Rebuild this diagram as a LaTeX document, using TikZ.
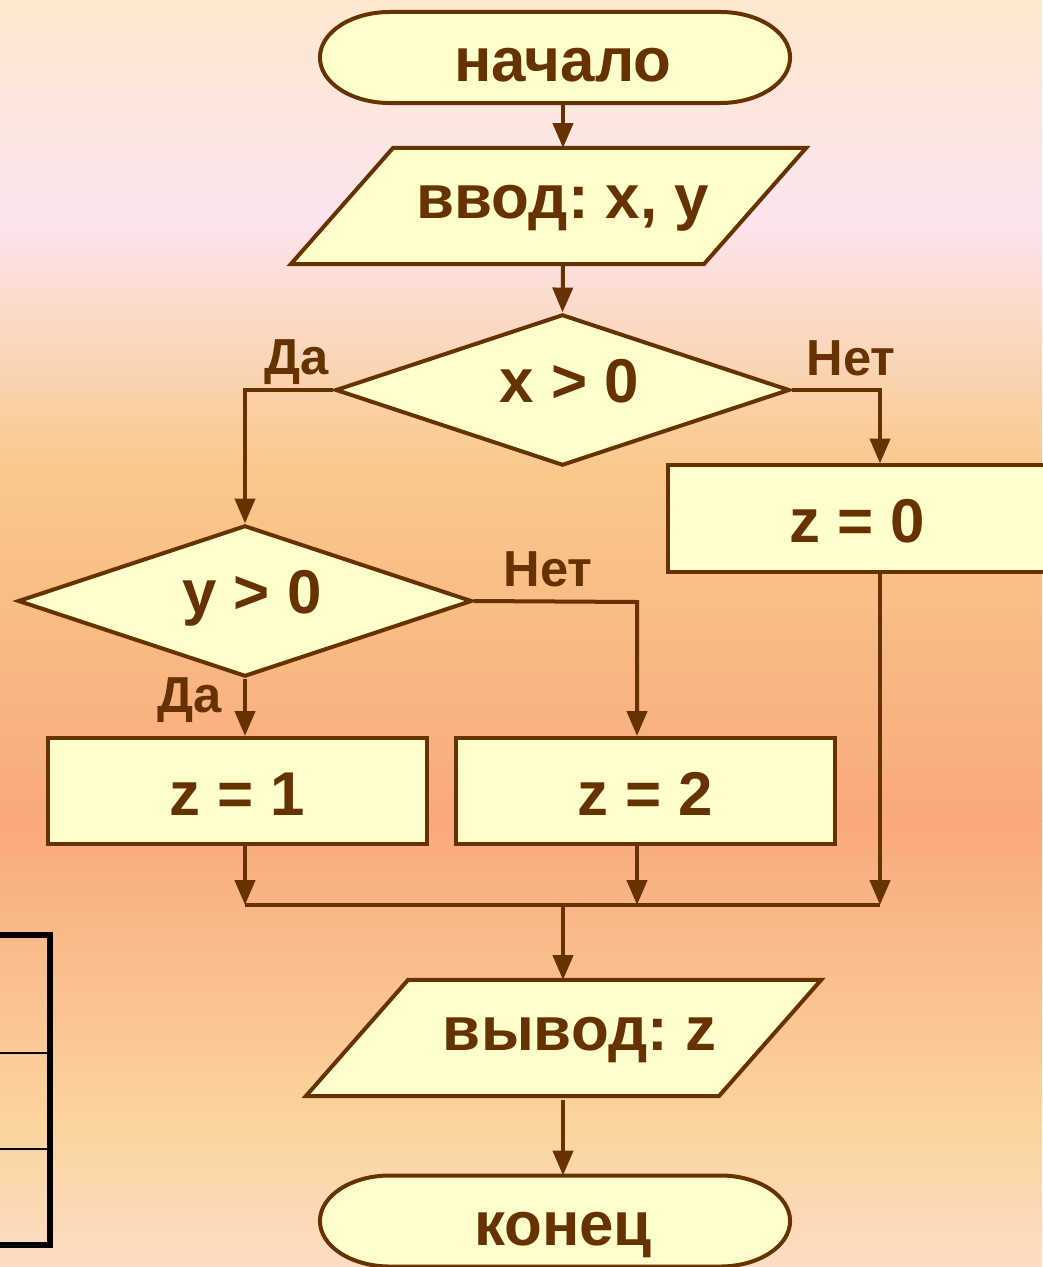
\documentclass[tikz,border=0pt]{standalone}
\usepackage{fontspec}
\setmainfont{Liberation Sans}
\frenchspacing
\usepackage{tikz}
\usetikzlibrary{shapes.geometric, arrows.meta}

\definecolor{ink}{HTML}{663300}
\definecolor{boxfill}{HTML}{FFFFCC}
\definecolor{bgA}{HTML}{FCE8CE}
\definecolor{bgB}{HTML}{FCE4EE}
\definecolor{bgC}{HTML}{F9C98A}
\definecolor{bgD}{HTML}{F9A97C}
\definecolor{bgE}{HTML}{FBD49C}
\definecolor{bgF}{HTML}{FCDCC4}

\pgfdeclarelayer{back}
\pgfsetlayers{back,main}

\begin{document}
\begin{tikzpicture}[x=0.025cm, y=-0.025cm,
        every node/.style={text=ink, font=\bfseries\fontsize{44}{50}\selectfont},
        blockbase/.style={draw=ink, fill=boxfill, line width=0.1cm, inner sep=0pt},
        lowtext/.style={text height=1.3cm, text depth=0.1cm},
        hightext/.style={text height=0.85cm, text depth=0.225cm},
        terminal/.style={lowtext, rectangle, inner sep=0pt, outer sep=0pt, minimum width=11.75cm, minimum height=2.275cm},
        io/.style={hightext, rectangle, inner sep=0pt, outer sep=0pt, minimum width=10.325cm, minimum height=2.9cm},
        decision/.style={blockbase, hightext, diamond, aspect=3, minimum width=11.35cm, minimum height=3.78cm},
        proc/.style={blockbase, lowtext, rectangle, minimum width=9.475cm, minimum height=2.65cm},
        lbl/.style={font=\bfseries\fontsize{36}{40}\selectfont},
        wire/.style={draw=ink, line width=0.1cm},
        arr/.style={wire, -{Triangle[length=0.62cm, width=0.5cm]}}]
        \useasboundingbox (0,0) rectangle (1042,1267);

        % background
        \begin{pgfonlayer}{back}
        \shade[top color=bgA, bottom color=bgB] (0,0) rectangle (1042,221);
        \shade[top color=bgB, bottom color=bgC] (0,220) rectangle (1042,471);
        \shade[top color=bgC, bottom color=bgD] (0,470) rectangle (1042,821);
        \shade[top color=bgD, bottom color=bgE] (0,820) rectangle (1042,1121);
        \shade[top color=bgE, bottom color=bgF] (0,1120) rectangle (1042,1267);
        \end{pgfonlayer}

        % table piece at the left
        \draw[line width=0.14cm] (0,935) -- (50,935) -- (50,1245) -- (0,1245);
        \draw[line width=0.07cm] (0,1053) -- (50,1053);
        \draw[line width=0.07cm] (0,1149) -- (50,1149);

        \node[terminal] (start) at (555,57.5) {\hspace*{0.4cm}начало};
        \node[io] (input) at (548.5,206) {\hspace*{0.72cm}ввод: x, y};

        \node[decision] (x0) at (562.5,390) {\hspace*{0.35cm}x > 0};
        \node[proc] (z0) at (857.5,518.5) {z = 0};

        \node[decision] (y0) at (245,601) {\hspace*{0.35cm}y > 0};
        \node[proc] (z1) at (237.5,791) {z = 1};
        \node[proc] (z2) at (645.5,791) {z = 2};

        \node[io] (output) at (563.5,1038) {\hspace*{0.8cm}вывод: z};
        \node[terminal] (stop) at (555,1221) {\hspace*{0.4cm}конец};

        % outlines of the terminals and io blocks
        \begin{pgfonlayer}{back}
        \foreach \n in {start, stop}
                \draw[blockbase] ([xshift=-1.75cm]\n.north east)
                        arc[start angle=90, end angle=-90, x radius=1.75cm, y radius=1.1375cm]
                        -- ([xshift=1.75cm]\n.south west)
                        arc[start angle=270, end angle=90, x radius=1.75cm, y radius=1.1375cm] -- cycle;
        \foreach \n in {input, output}
                \draw[blockbase] ([xshift=-1.275cm]\n.south west) -- ([xshift=1.275cm]\n.north west)
                        -- ([xshift=1.275cm]\n.north east) -- ([xshift=-1.275cm]\n.south east) -- cycle;
        \end{pgfonlayer}

        \node[lbl] (yes1) at (297,362) {Да};
        \node[lbl] (no1) at (851,358) {Нет};
        \node[lbl] (no2) at (548,569) {Нет};
        \node[lbl] (yes2) at (190,700) {Да};

        \coordinate (xl) at (245,390);
        \coordinate (xr) at (880,390);
        \coordinate (yr) at (637,602);
        \coordinate (jl) at (245,905);
        \coordinate (jm) at (637,905);
        \coordinate (jr) at (880,905);
        \coordinate (jc) at (563,905);

        \draw[arr] (start.south -| jc) -- (input.north -| jc);
        \draw[arr] (input.south -| jc) -- (x0.north);

        \draw[arr] (x0.west) -- (xl) -- (y0.north);
        \draw[arr] (x0.east) -- (xr) -- (xr |- z0.north);

        \draw[arr] (y0.south) -- (y0.south |- z1.north);
        \draw[arr] (y0.east) -- (yr) -- (yr |- z2.north);

        \draw[arr] (z1.south -| jl) -- (jl);
        \draw[arr] (z2.south -| jm) -- (jm);
        \draw[arr] (z0.south -| jr) -- (jr);
        \draw[wire] (jl) -- (jr);

        \draw[arr] (jc) -- (output.north -| jc);
        \draw[arr, shorten <=0.1cm] (output.south -| jc) -- (stop.north -| jc);
\end{tikzpicture}
\end{document}
